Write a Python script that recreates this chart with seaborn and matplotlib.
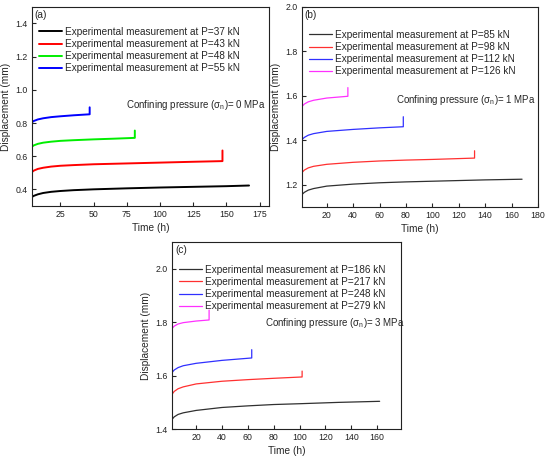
import numpy as np
import pandas as pd
from matplotlib import pyplot as plt
import seaborn as sns

sns.set_style("ticks")
plt.rcParams['font.family'] = ['Liberation Sans', 'DejaVu Sans']
plt.rcParams['mathtext.default'] = 'regular'

# panel (a), confining pressure 0 MPa
a_loads = ["37", "43", "48", "55"]
a_t37 = [3.5, 5, 8, 12, 18, 25, 35, 50, 75, 100, 125, 150, 167]
a_d37 = [0.355, 0.362, 0.371, 0.379, 0.386, 0.391, 0.396, 0.401, 0.407, 0.412, 0.416, 0.420, 0.424]
a_t43 = [3.5, 5, 8, 12, 18, 25, 35, 50, 75, 100, 125, 147, 147]
a_d43 = [0.505, 0.514, 0.524, 0.531, 0.538, 0.543, 0.547, 0.552, 0.557, 0.562, 0.567, 0.571, 0.635]
a_t48 = [3.5, 5, 8, 12, 18, 25, 35, 50, 65, 81, 81]
a_d48 = [0.658, 0.666, 0.675, 0.682, 0.688, 0.693, 0.697, 0.702, 0.706, 0.711, 0.755]
a_t55 = [3.5, 5, 8, 12, 18, 25, 35, 47, 47]
a_d55 = [0.805, 0.813, 0.822, 0.829, 0.836, 0.841, 0.847, 0.853, 0.895]

# panel (b), confining pressure 1 MPa
b_loads = ["85", "98", "112", "126"]
b_t85 = [1.2, 3, 6, 10, 20, 40, 60, 80, 100, 120, 140, 168]
b_d85 = [1.156, 1.166, 1.176, 1.183, 1.194, 1.203, 1.209, 1.213, 1.216, 1.219, 1.222, 1.225]
b_t98 = [1.2, 3, 6, 10, 20, 40, 60, 80, 100, 132, 132]
b_d98 = [1.255, 1.266, 1.276, 1.283, 1.292, 1.301, 1.307, 1.311, 1.314, 1.320, 1.353]
b_t112 = [1.2, 3, 6, 10, 20, 40, 60, 78, 78]
b_d112 = [1.403, 1.413, 1.423, 1.430, 1.440, 1.449, 1.456, 1.461, 1.506]
b_t126 = [1.2, 3, 6, 10, 20, 36, 36]
b_d126 = [1.552, 1.563, 1.573, 1.580, 1.590, 1.598, 1.637]

# panel (c), confining pressure 3 MPa
c_loads = ["186", "217", "248", "279"]
c_t186 = [1.4, 3, 6, 10, 20, 40, 60, 80, 100, 130, 162]
c_d186 = [1.437, 1.446, 1.455, 1.461, 1.470, 1.481, 1.487, 1.492, 1.495, 1.500, 1.504]
c_t217 = [1.4, 3, 6, 10, 20, 40, 60, 80, 102, 102]
c_d217 = [1.531, 1.541, 1.551, 1.558, 1.569, 1.579, 1.585, 1.590, 1.595, 1.617]
c_t248 = [1.4, 3, 6, 10, 20, 40, 63, 63]
c_d248 = [1.612, 1.621, 1.630, 1.637, 1.646, 1.657, 1.666, 1.697]
c_t279 = [1.4, 3, 6, 10, 20, 30, 30]
c_d279 = [1.777, 1.785, 1.793, 1.798, 1.804, 1.808, 1.845]


def make_df(loads, ts, ds):
    parts = []
    for p, t, d in zip(loads, ts, ds):
        parts.append(pd.DataFrame({"t": t, "d": d,
                                   "label": "Experimental measurement at P=%s kN" % p}))
    return pd.concat(parts, ignore_index=True)


panels = [
    dict(df=make_df(a_loads, [a_t37, a_t43, a_t48, a_t55], [a_d37, a_d43, a_d48, a_d55]),
         pos=[0.058, 0.550, 0.431, 0.435], colors=["black", "red", "#00ee00", "blue"], lw=1.4,
         xlim=(3.5, 182), ylim=(0.3, 1.5), xticks=[25, 50, 75, 100, 125, 150, 175],
         yticks=[0.4, 0.6, 0.8, 1.0, 1.2, 1.4], tag="(a)", mpa="0",
         leg=(0.0, 0.935), note=(0.397, 0.508)),
    dict(df=make_df(b_loads, [b_t85, b_t98, b_t112, b_t126], [b_d85, b_d98, b_d112, b_d126]),
         pos=[0.549, 0.548, 0.429, 0.437], colors=["#303030", "#ff3030", "#3030ff", "#ff30ff"], lw=0.9,
         xlim=(1.2, 180), ylim=(1.1, 2.0), xticks=[20, 40, 60, 80, 100, 120, 140, 160, 180],
         yticks=[1.2, 1.4, 1.6, 1.8, 2.0], tag="(b)", mpa="1",
         leg=(0.0, 0.92), note=(0.397, 0.533)),
    dict(df=make_df(c_loads, [c_t186, c_t217, c_t248, c_t279], [c_d186, c_d217, c_d248, c_d279]),
         pos=[0.313, 0.063, 0.416, 0.409], colors=["#303030", "#ff3030", "#3030ff", "#ff30ff"], lw=0.9,
         xlim=(1.4, 178.5), ylim=(1.4, 2.1), xticks=[20, 40, 60, 80, 100, 120, 140, 160],
         yticks=[1.4, 1.6, 1.8, 2.0], tag="(c)", mpa="3",
         leg=(0.0, 0.915), note=(0.406, 0.567)),
]

fig = plt.figure(figsize=(5.5, 4.58), dpi=100)
for p in panels:
    ax = fig.add_axes(p["pos"])
    sns.lineplot(data=p["df"], x="t", y="d", hue="label", palette=p["colors"],
                 sort=False, estimator=None, linewidth=p["lw"], ax=ax)
    ax.set_xlim(*p["xlim"])
    ax.set_ylim(*p["ylim"])
    ax.set_xticks(p["xticks"])
    ax.set_yticks(p["yticks"])
    ax.tick_params(direction="in", length=3, width=0.8, labelsize=6.3, pad=3,
                   labelcolor="#222222")
    for s in ax.spines.values():
        s.set_linewidth(0.8)
        s.set_color("#222222")
    ax.set_xlabel("Time (h)", fontsize=7.3, labelpad=3)
    ax.set_ylabel("Displacement (mm)", fontsize=7.3, labelpad=3)
    ax.text(0.012, 0.985, p["tag"], transform=ax.transAxes, ha="left", va="top", fontsize=7.3)
    ax.text(p["note"][0], p["note"][1], "Confining pressure ($\\sigma_n$)= %s MPa" % p["mpa"],
            transform=ax.transAxes, ha="left", va="center", fontsize=7)
    leg = ax.legend(loc="upper left", bbox_to_anchor=p["leg"], frameon=False, fontsize=7.2,
                    handlelength=2.3, handletextpad=0.3, labelspacing=0.22, borderaxespad=0.3)
    for h in leg.get_lines():
        h.set_linewidth(p["lw"])

fig.savefig("out.png", dpi=100)
